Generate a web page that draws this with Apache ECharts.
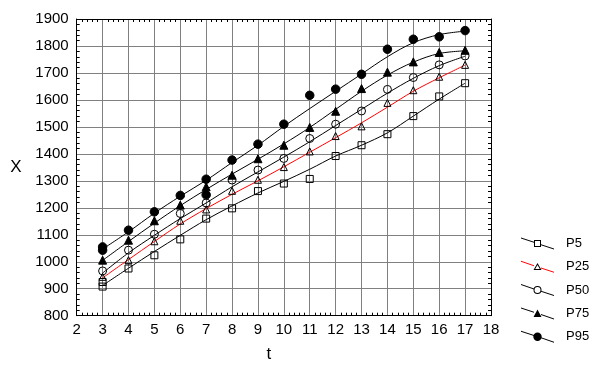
<!DOCTYPE html>
<html><head><meta charset="utf-8">
<script src="https://cdn.jsdelivr.net/npm/echarts@6/dist/echarts.min.js"></script>
<style>html,body{margin:0;padding:0;background:#fff}#c{width:593px;height:370px}</style>
</head><body><div id="c"></div>
<script>
// ---- data ----
const tVals = [3,4,5,6,7,8,9,10,11,12,13,14,15,16,17];
const names = ['P5','P25','P50','P75','P95'];
const p5  = [925, 975,1024,1083,1160,1198,1262,1290,1307,1392,1432,1473,1540,1613,1662];
const p25 = [944,1006,1076,1152,1194,1263,1304,1351,1409,1466,1502,1589,1636,1686,1730];
const p50 = [966,1043,1102,1179,1218,1303,1340,1383,1457,1510,1559,1639,1683,1730,1763];
const p75 = [1006,1080,1152,1210,1278,1321,1382,1432,1498,1558,1642,1703,1741,1776,1784];
const p95 = [1055,1117,1185,1246,1306,1377,1436,1510,1617,1640,1695,1788,1825,1834,1857];
// additional observations at repeated t
const p5ExtraT = [3];    const p5ExtraV = [908];
const p95ExtraT = [3,7]; const p95ExtraV = [1043,1248];
// fitted curves
const fitP5  = [912, 976,1038,1098,1156,1207,1255,1298,1343,1392,1432,1478,1540,1603,1662];
const fitP25 = [940,1008,1075,1140,1197,1250,1300,1352,1406,1460,1515,1573,1632,1682,1729];
const fitP50 = [958,1033,1098,1160,1218,1278,1333,1388,1445,1505,1565,1625,1680,1727,1762];
const fitP75 = [1005,1075,1143,1208,1268,1325,1380,1437,1498,1565,1632,1692,1740,1772,1782];
const fitP95 = [1047,1111,1180,1243,1302,1368,1432,1502,1568,1632,1696,1760,1812,1842,1855];
const xTicks = {min:2, max:18, interval:1};
const yTicks = {min:800, max:1900, interval:100};

// ---- build ----
const pts = (xs, ys) => xs.map((t,i)=>[t, ys[i]]);
const obs = [p5,p25,p50,p75,p95];
const fits = [fitP5,fitP25,fitP50,fitP75,fitP95];
const extras = {0: pts(p5ExtraT,p5ExtraV), 4: pts(p95ExtraT,p95ExtraV)};
const lineColors = ['#000','#ff0000','#000','#000','#000'];
const sym = [
  {symbol:'rect', size:7, fill:'none'},
  {symbol:'triangle', size:7, fill:'none'},
  {symbol:'circle', size:8, fill:'none'},
  {symbol:'triangle', size:8, fill:'#000'},
  {symbol:'circle', size:8.5, fill:'#000'}
];
const FONT = 'Liberation Sans';
// legend icons (33 x 12 box)
const lineIcon = 'path://M0 0 L13 4.333 L13 5.333 L0 1 Z M20 6.667 L33 11 L33 12 L20 7.667 Z';
const pin = 'M0 0 L0 0 Z M33 12 L33 12 Z ';
const markerIcons = [
  'path://' + pin + 'M13 2.5 L20 2.5 L20 9.5 L13 9.5 Z M14 3.5 L14 8.5 L19 8.5 L19 3.5 Z',
  'path://' + pin + 'M16.5 2.2 L20.5 9.3 L12.5 9.3 Z M16.5 4.2 L14.2 8.3 L18.8 8.3 Z',
  'path://' + pin + 'M12.5 6 A4 4 0 1 1 20.5 6 A4 4 0 1 1 12.5 6 Z M13.5 6 A3 3 0 1 0 19.5 6 A3 3 0 1 0 13.5 6 Z',
  'path://' + pin + 'M16.5 2 L20.5 9.5 L12.5 9.5 Z',
  'path://' + pin + 'M12.3 6 A4.2 4.2 0 1 1 20.7 6 A4.2 4.2 0 1 1 12.3 6 Z'
];

const series = [];
names.forEach((n,i)=>{
  series.push({
    name: n + ' fit', type:'line', data: pts(tVals, fits[i]), smooth:0.35,
    symbol:'none', lineStyle:{color:lineColors[i], width:1}, itemStyle:{color:lineColors[i]},
    z:2, silent:true, animation:false
  });
});
names.forEach((n,i)=>{
  const d = pts(tVals, obs[i]).concat(extras[i] || []);
  series.push({
    name: n, type:'scatter', data: d, symbol: sym[i].symbol, symbolSize: sym[i].size,
    itemStyle:{color: sym[i].fill, borderColor:'#000', borderWidth:1, opacity:1},
    z:3, animation:false
  });
});

const axisLabel = {color:'#000', fontFamily:FONT, fontSize:15, formatter:(v)=>String(v)};
const legendCommon = {
  orient:'vertical', left:516, top:232, itemWidth:33, itemHeight:12, itemGap:10.3,
  selectedMode:false, inactiveColor:'#000'
};
const option = {
  animation:false,
  grid:{left:76.7, right:102, top:19, bottom:54.3},
  xAxis:[{
    type:'value', min:xTicks.min, max:xTicks.max, interval:xTicks.interval,
    name:'t', nameLocation:'middle', nameGap:30,
    nameTextStyle:{color:'#000', fontFamily:FONT, fontSize:17, padding:[0,30,0,0]},
    axisLine:{show:true, lineStyle:{color:'#000', width:1}},
    axisTick:{show:false},
    minorTick:{show:true, splitNumber:5, length:-3, lineStyle:{color:'#000'}},
    splitLine:{show:true, lineStyle:{color:'#808080', width:1}},
    axisLabel:Object.assign({margin:7}, axisLabel)
  },{
    type:'value', position:'top', min:xTicks.min, max:xTicks.max, interval:xTicks.interval,
    axisLine:{show:true, lineStyle:{color:'#000', width:1}},
    axisTick:{show:false}, axisLabel:{show:false}, splitLine:{show:false},
    minorTick:{show:true, splitNumber:5, length:-3, lineStyle:{color:'#000'}}
  }],
  yAxis:[{
    type:'value', min:yTicks.min, max:yTicks.max, interval:yTicks.interval,
    name:'X', nameLocation:'middle', nameGap:55, nameRotate:0,
    nameTextStyle:{color:'#000', fontFamily:FONT, fontSize:17, padding:[13,0,0,0]},
    axisLine:{show:true, lineStyle:{color:'#000', width:1}},
    axisTick:{show:false},
    minorTick:{show:true, splitNumber:5, length:-3, lineStyle:{color:'#000'}},
    splitLine:{show:true, lineStyle:{color:'#808080', width:1}},
    axisLabel:Object.assign({margin:8}, axisLabel)
  },{
    type:'value', position:'right', min:yTicks.min, max:yTicks.max, interval:yTicks.interval,
    axisLine:{show:true, lineStyle:{color:'#000', width:1}},
    axisTick:{show:false}, axisLabel:{show:false}, splitLine:{show:false},
    minorTick:{show:true, splitNumber:5, length:-3, lineStyle:{color:'#000'}}
  }],
  legend:[
    Object.assign({}, legendCommon, {
      data: names.map((n,i)=>({name:n+' fit', icon:lineIcon, itemStyle:{color:lineColors[i], borderWidth:0}})),
      formatter: (s)=>s.replace(' fit',''),
      textStyle:{color:'rgba(0,0,0,0)', fontFamily:FONT, fontSize:13, lineHeight:12, padding:[0,0,0,7]}
    }),
    Object.assign({}, legendCommon, {
      data: names.map((n,i)=>({name:n, icon:markerIcons[i], itemStyle:{color:'#000', borderWidth:0}})),
      textStyle:{color:'#000', fontFamily:FONT, fontSize:13, lineHeight:12, padding:[0,0,0,7]}
    })
  ],
  series: series
};
const chart = echarts.init(document.getElementById('c'), null, {renderer:'canvas'});
chart.setOption(option);
</script></body></html>
